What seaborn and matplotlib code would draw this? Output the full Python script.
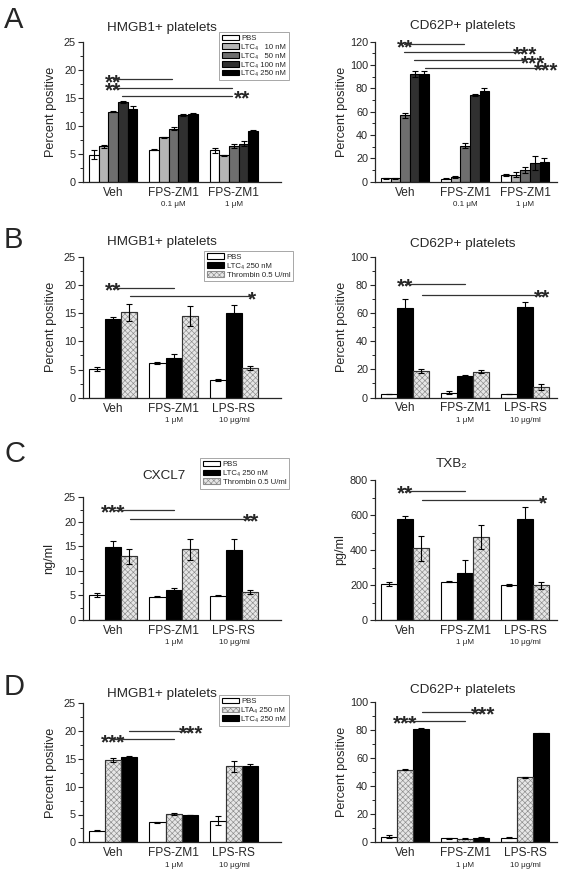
import numpy as np
import pandas as pd
import matplotlib
matplotlib.use('Agg')
import matplotlib.pyplot as plt
from matplotlib.patches import Rectangle
from matplotlib.ticker import MultipleLocator
import seaborn as sns

# ---- values (mean, sem) ----
# rows = treatment, columns = group
a_groups = ['Veh', 'FPS-ZM1 0.1', 'FPS-ZM1 1']
a_ticks = ['Veh', 'FPS-ZM1', 'FPS-ZM1']
a_sub = ['', '0.1 μM', '1 μM']
a_treat = ['PBS', 'LTC₄   10 nM', 'LTC₄   50 nM', 'LTC₄ 100 nM', 'LTC₄ 250 nM']
a_colors = ['white', '#b4b4b4', '#6e6e6e', '#303030', 'black']
a_hmgb1 = [[4.8, 5.7, 5.6], [6.3, 7.9, 4.7], [12.5, 9.5, 6.4], [14.2, 11.9, 6.8], [13.0, 12.1, 9.0]]
a_hmgb1_err = [[0.8, 0.1, 0.4], [0.3, 0.05, 0.05], [0.1, 0.2, 0.3], [0.2, 0.2, 0.4], [0.6, 0.2, 0.3]]
a_cd62p = [[3.0, 2.5, 5.5], [3.0, 4.0, 6.0], [57, 31, 10], [92, 74.5, 16], [92.5, 77.5, 17]]
a_cd62p_err = [[0.3, 0.3, 1.0], [0.3, 0.5, 2.0], [2, 2, 2.5], [2.5, 1, 6], [2, 2.5, 3.5]]

bcd_groups = ['Veh', 'FPS-ZM1', 'LPS-RS']
bcd_sub = ['', '1 μM', '10 μg/ml']
b_treat = ['PBS', 'LTC₄ 250 nM', 'Thrombin 0.5 U/ml']
b_colors = ['white', 'black', '#e6e6e6']
b_hmgb1 = [[5.1, 6.1, 3.2], [13.9, 7.0, 15.0], [15.2, 14.5, 5.3]]
b_hmgb1_err = [[0.4, 0.2, 0.2], [0.4, 0.7, 1.5], [1.5, 1.8, 0.4]]
b_cd62p = [[2.5, 3.5, 2.5], [64, 15, 64.5], [19, 18.5, 7.5]]
b_cd62p_err = [[0.3, 1.0, 0.3], [6, 0.7, 3.5], [1.5, 1.0, 2.0]]

c_cxcl7 = [[5.0, 4.7, 4.9], [14.8, 6.2, 14.2], [13.0, 14.4, 5.7]]
c_cxcl7_err = [[0.4, 0.1, 0.1], [1.2, 0.4, 2.4], [1.5, 2.1, 0.5]]
c_txb2 = [[205, 218, 200], [575, 270, 575], [410, 475, 198]]
c_txb2_err = [[12, 3, 7], [22, 72, 70], [70, 68, 20]]

d_treat = ['PBS', 'LTA₄ 250 nM', 'LTC₄ 250 nM']
d_colors = ['white', '#e6e6e6', 'black']
d_hmgb1 = [[2.1, 3.6, 3.9], [14.8, 5.1, 13.7], [15.3, 4.9, 13.7]]
d_hmgb1_err = [[0.05, 0.1, 0.8], [0.3, 0.1, 1.0], [0.2, 0.05, 0.4]]
d_cd62p = [[4.0, 2.8, 3.3], [52, 2.5, 46.5], [81, 3.3, 78]]
d_cd62p_err = [[1.0, 0.3, 0.2], [0.7, 0.3, 0.5], [0.5, 0.3, 0.3]]

# significance bars: (x start, x end, y, stars, star x)
a_hmgb1_sig = [(0.0, 0.98, 18.3, '**', 0.0), (0.0, 1.97, 16.8, '**', 0.0), (0.15, 1.97, 15.3, '**', 2.13)]
a_cd62p_sig = [(-0.02, 0.98, 117.7, '**', 0.0), (-0.02, 1.95, 111.4, '***', 2.0),
               (0.15, 2.0, 104.0, '***', 2.13), (0.33, 2.3, 97.4, '***', 2.35)]
b_hmgb1_sig = [(0.0, 1.0, 19.5, '**', 0.0), (0.28, 2.3, 18.0, '*', 2.3)]
b_cd62p_sig = [(0.0, 1.0, 80.7, '**', 0.0), (0.28, 2.28, 72.9, '**', 2.28)]
c_cxcl7_sig = [(0.0, 1.0, 22.4, '***', 0.0), (0.28, 2.3, 20.6, '**', 2.28)]
c_txb2_sig = [(0.0, 1.0, 737, '**', 0.0), (0.28, 2.3, 684, '*', 2.3)]
d_hmgb1_sig = [(0.0, 1.0, 18.5, '***', 0.0), (0.27, 1.3, 20.0, '***', 1.29)]
d_cd62p_sig = [(0.0, 1.0, 86.7, '***', 0.0), (0.28, 1.3, 93.1, '***', 1.3)]

sns.set_style('ticks')
plt.rcParams['font.family'] = ['Liberation Sans', 'DejaVu Sans']
plt.rcParams['hatch.linewidth'] = 0.45

W, H = 562, 876
fig = plt.figure(figsize=(W / 100, H / 100), dpi=100)


def rect(l, r, t, b):
    return [l / W, 1 - b / H, (r - l) / W, (b - t) / H]


def panel(pos, groups, ticks, subs, treats, colors, means, errs, hatched, ymax, major,
          ylabel, title, tx, pad, sig, xmax, legend_at=None, labelpad=5):
    ax = fig.add_axes(pos)
    rows = []
    for i, t in enumerate(treats):
        for j, g in enumerate(groups):
            rows.append({'group': g, 'treat': t, 'value': means[i][j]})
    df = pd.DataFrame(rows)
    sns.barplot(data=df, x='group', y='value', hue='treat', order=groups, hue_order=treats,
                palette=dict(zip(treats, colors)), saturation=1, edgecolor='black',
                linewidth=0.8, errorbar=None, width=0.8, legend=False, ax=ax)
    bars = list(ax.containers)
    for i, cont in enumerate(bars):
        xs, ys = [], []
        for p in cont.patches:
            xs.append(p.get_x() + p.get_width() / 2)
            ys.append(p.get_height())
            if i in hatched:
                p.set_edgecolor('#8c8c8c')
                p.set_hatch('xxxxxx')
                ax.add_patch(Rectangle(p.get_xy(), p.get_width(), p.get_height(), fill=False,
                                       edgecolor='#333333', lw=0.8, zorder=1.5))
        ax.errorbar(xs, ys, yerr=errs[i], fmt='none', ecolor='black', elinewidth=0.8,
                    capsize=2.3, capthick=0.8, zorder=3)
    for x0, x1, y, s, sx in sig:
        ax.plot([x0, x1], [y, y], color='#333333', lw=0.9, clip_on=False, zorder=4)
        ax.annotate(s, (sx, y), xytext=(0, -6.3), textcoords='offset points', ha='center',
                    va='baseline', fontsize=15, fontweight='bold', annotation_clip=False)
    ax.set_xlim(-0.5, xmax)
    ax.set_ylim(0, ymax)
    ax.yaxis.set_major_locator(MultipleLocator(major))
    ax.yaxis.set_minor_locator(MultipleLocator(major / 2))
    ax.set_xticks(range(len(groups)))
    ax.set_xticklabels(ticks, fontsize=8.6)
    ax.tick_params(axis='x', length=0, pad=3.5)
    ax.tick_params(axis='y', which='major', length=3.5, width=0.8, labelsize=7.8, pad=1.5)
    ax.tick_params(axis='y', which='minor', length=2, width=0.7)
    ax.set_xlabel('')
    ax.set_ylabel(ylabel, fontsize=9.1, labelpad=labelpad)
    ax.set_title(title, fontsize=9.7, x=tx, pad=pad)
    for j, s in enumerate(subs):
        if s:
            ax.annotate(s, (j, 0), xycoords=('data', 'axes fraction'), xytext=(0, -16.5),
                        textcoords='offset points', ha='center', va='center', fontsize=5.8)
    sns.despine(ax=ax)
    for sp in ax.spines.values():
        sp.set_linewidth(0.9)
    if legend_at is not None:
        handles = [c.patches[0] for c in bars]
        leg = ax.legend(handles, treats, loc='upper right', bbox_to_anchor=legend_at,
                        fontsize=5.6, frameon=True, fancybox=False, edgecolor='#999999',
                        framealpha=1, borderpad=0.35, labelspacing=0.18, handlelength=2.2,
                        handleheight=0.7, handletextpad=0.3, borderaxespad=0)
        leg.get_frame().set_linewidth(0.6)
    return ax


LX, RX = (83, 281), (375, 557)

panel(rect(*LX, 41.7, 181.7), a_groups, a_ticks, a_sub, a_treat, a_colors, a_hmgb1, a_hmgb1_err,
      [], 25, 5, 'Percent positive', 'HMGB1+ platelets', 0.40, 8, a_hmgb1_sig, 2.78,
      legend_at=(1.04, 1.07))
panel(rect(*RX, 41.7, 181.7), a_groups, a_ticks, a_sub, a_treat, a_colors, a_cd62p, a_cd62p_err,
      [], 120, 20, 'Percent positive', 'CD62P+ platelets', 0.48, 9, a_cd62p_sig, 2.53, labelpad=1.5)

panel(rect(*LX, 257, 397.7), bcd_groups, bcd_groups, bcd_sub, b_treat, b_colors, b_hmgb1, b_hmgb1_err,
      [2], 25, 5, 'Percent positive', 'HMGB1+ platelets', 0.40, 9, b_hmgb1_sig, 2.78,
      legend_at=(1.06, 1.045))
panel(rect(*RX, 257, 397.5), bcd_groups, bcd_groups, bcd_sub, b_treat, b_colors, b_cd62p, b_cd62p_err,
      [2], 100, 20, 'Percent positive', 'CD62P+ platelets', 0.48, 7, b_cd62p_sig, 2.53, labelpad=1.5)

panel(rect(*LX, 497.3, 620), bcd_groups, bcd_groups, bcd_sub, b_treat, b_colors, c_cxcl7, c_cxcl7_err,
      [2], 25, 5, 'ng/ml', 'CXCL7', 0.41, 13.5, c_cxcl7_sig, 2.78, legend_at=(1.04, 1.32), labelpad=6)
panel(rect(*RX, 480, 620), bcd_groups, bcd_groups, bcd_sub, b_treat, b_colors, c_txb2, c_txb2_err,
      [2], 800, 200, 'pg/ml', 'TXB₂', 0.42, 9, c_txb2_sig, 2.53, labelpad=2.5)

panel(rect(*LX, 703.3, 842.3), bcd_groups, bcd_groups, bcd_sub, d_treat, d_colors, d_hmgb1, d_hmgb1_err,
      [1], 25, 5, 'Percent positive', 'HMGB1+ platelets', 0.40, 4.5, d_hmgb1_sig, 2.78,
      legend_at=(1.04, 1.06))
panel(rect(*RX, 702.3, 842.3), bcd_groups, bcd_groups, bcd_sub, d_treat, d_colors, d_cd62p, d_cd62p_err,
      [1], 100, 20, 'Percent positive', 'CD62P+ platelets', 0.48, 6.5, d_cd62p_sig, 2.53, labelpad=1.5)

for letter, base in zip('ABCD', [28, 248, 462, 695]):
    fig.text(4 / W, 1 - base / H, letter, fontsize=21, va='baseline', ha='left')

fig.savefig('out.png', dpi=100)
